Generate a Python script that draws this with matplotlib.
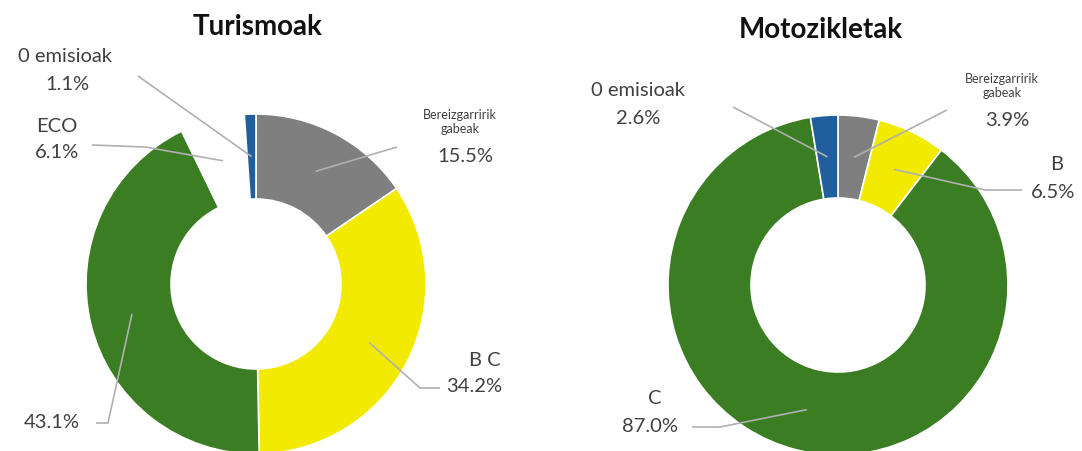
import numpy as np
import matplotlib
matplotlib.use("Agg")
import matplotlib.pyplot as plt

# Turismoak (passenger cars) by environmental label, %
tur_names = ["Bereizgarririk gabeak", "B", "C", "ECO", "0 emisioak"]
tur_values = [15.5, 34.2, 43.1, 6.1, 1.1]
tur_text = ["Bereizgarririk\ngabeak", "B C", "", "ECO", "0 emisioak"]

# Motozikletak (motorcycles) by environmental label, %
moto_names = ["Bereizgarririk gabeak", "B", "C", "0 emisioak"]
moto_values = [3.9, 6.5, 87.0, 2.6]
moto_text = ["Bereizgarririk\ngabeak", "B", "C", "0 emisioak"]

colors = {
    "Bereizgarririk gabeak": "#7f7f7f",
    "B": "#f2ea00",
    "C": "#3b7d23",
    "ECO": "#ffffff",
    "0 emisioak": "#215e9d",
}

FONT = "Lato"
TXT = "#404040"
LINE = "#b0b0b0"

W, H = 1082, 451
fig = plt.figure(figsize=(W / 100, H / 100), dpi=100)
ax = fig.add_axes([0, 0, 1, 1])


def donut(values, names, texts, center, radius, hole, title, title_xy, label_pos):
    cx, cy = center
    wedges, _ = ax.pie(values, colors=[colors[n] for n in names], startangle=90,
                       counterclock=False, center=(cx, H - cy), radius=radius,
                       wedgeprops=dict(width=radius - hole, edgecolor="white", linewidth=1.2),
                       frame=True)
    ax.text(title_xy[0], H - title_xy[1], title, ha="center", va="center",
            fontsize=20, fontweight="bold", family=FONT, color="#111111")
    mid_r = (radius + hole) / 2
    for w, name, txt, v, pos in zip(wedges, names, texts, values, label_pos):
        ang = np.deg2rad((w.theta1 + w.theta2) / 2)
        px = cx + mid_r * np.cos(ang)
        py = H - cy + mid_r * np.sin(ang)
        (nx, ny), (vx, vy), path = pos
        if name == "Bereizgarririk gabeak":
            ax.text(nx, H - ny, txt, ha="center", va="center", fontsize=9,
                    family=FONT, color=TXT, linespacing=1.15)
        elif txt:
            ax.text(nx, H - ny, txt, ha="center", va="center", fontsize=14.5,
                    family=FONT, color=TXT)
        ax.text(vx, H - vy, f"{v:.1f}%", ha="center", va="center", fontsize=14.5,
                family=FONT, color=TXT)
        xs = [px] + [p[0] for p in path]
        ys = [py] + [H - p[1] for p in path]
        ax.plot(xs, ys, color=LINE, lw=1.2, solid_capstyle="butt")


# label anchors: (name xy, value xy, leader path back to text)
tur_pos = [
    ((460, 122), (465, 157), [(397, 147)]),
    ((485, 360), (474, 387), [(420, 388), (440, 388)]),
    ((0, 0), (52, 423), [(108, 423), (96, 423)]),
    ((57, 127), (57, 153), [(145, 147), (92, 145)]),
    ((65, 57), (67, 85), [(138, 76)]),
]
moto_pos = [
    ((1002, 86), (1007, 120), [(947, 110)]),
    ((1057, 165), (1053, 192), [(985, 190), (1022, 190)]),
    ((655, 398), (650, 427), [(720, 427), (692, 427)]),
    ((638, 90), (638, 118), [(733, 107)]),
]

donut(tur_values, tur_names, tur_text, (256, 284), 170, 85, "Turismoak", (258, 27), tur_pos)
donut(moto_values, moto_names, moto_text, (838, 285), 170, 87, "Motozikletak", (821, 30), moto_pos)

ax.set_xlim(0, W)
ax.set_ylim(0, H)
ax.set_aspect("equal")
ax.axis("off")

fig.savefig("out.png", dpi=100, facecolor="white")
